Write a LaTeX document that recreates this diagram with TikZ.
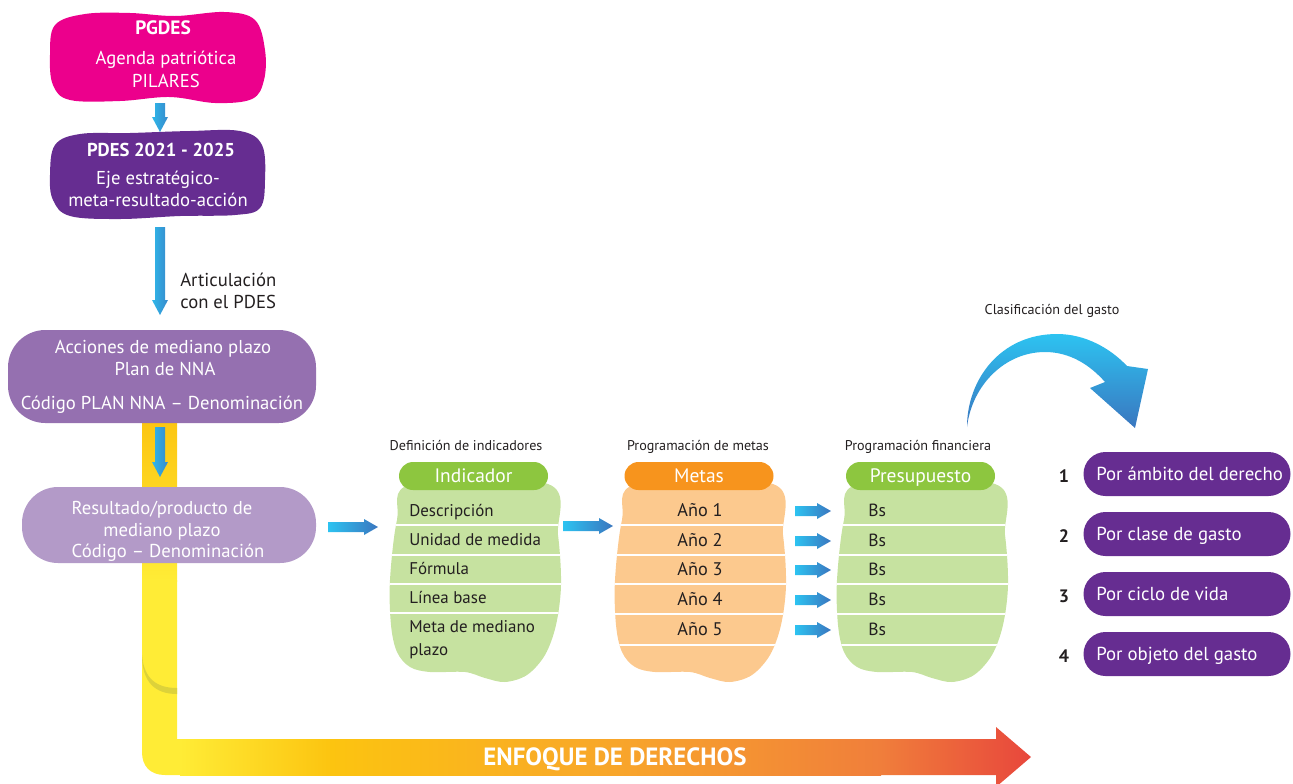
\documentclass[tikz,border=0pt]{standalone}
\usepackage{fontspec}
\setmainfont{PT Sans}
\definecolor{cPink}{HTML}{EC008C}
\definecolor{cPurple}{HTML}{662D91}
\definecolor{cPurpleM}{HTML}{9570B0}
\definecolor{cPurpleL}{HTML}{B39AC8}
\definecolor{cGreen}{HTML}{8DC63F}
\definecolor{cGreenL}{HTML}{C6E2A0}
\definecolor{cOrange}{HTML}{F7941D}
\definecolor{cOrangeL}{HTML}{FCC98E}
\definecolor{cText}{HTML}{231F20}
\definecolor{cCyan}{HTML}{2DC3F1}
\definecolor{cBlue}{HTML}{3A76BF}
\definecolor{cY1}{HTML}{FFEC36}
\definecolor{cY2}{HTML}{FCC410}
\definecolor{cY3}{HTML}{F8A52B}
\definecolor{cY4}{HTML}{F07E3B}
\definecolor{cRed}{HTML}{E8473C}
\definecolor{cShadow}{HTML}{DDD23A}
\newcommand\fs[1]{\fontsize{#1}{#1}\selectfont}
\newcommand\hblue[3]{%
  \shade[left color=cCyan,right color=cBlue] (#1,#3-5) -- (#2-14,#3-5) -- (#2-14,#3-8) -- (#2,#3) -- (#2-14,#3+8) -- (#2-14,#3+5) -- (#1,#3+5) -- cycle;}
\newcommand\vblue[3]{%
  \shade[left color=cCyan!85!cBlue,right color=cBlue!75!cCyan] (#1-5,#2) -- (#1+5,#2) -- (#1+5,#3-15) -- (#1+8,#3-15) -- (#1,#3) -- (#1-8,#3-15) -- (#1-5,#3-15) -- cycle;}
\newcommand\bodyshape[1]{#1 plot[smooth cycle,tension=0.55] coordinates {(412,484) (397,520) (390,580) (391,625) (397,652) (410,667) (430,672) (465,672) (485,678) (505,682) (527,675) (545,655) (556,625) (561,585) (558,535) (548,484)};}
\newcommand\column[3]{%
  \begin{scope}[shift={(#1,0)}]
    \bodyshape{\fill[#2]}
    \begin{scope}
      \bodyshape{\clip}
      \foreach \yy in {#3} \draw[white,line width=1.5pt] (380,\yy) -- (580,\yy);
    \end{scope}
  \end{scope}}
\begin{document}
\begin{tikzpicture}[x=0.75pt,y=-0.75pt,
  s9/.style={inner sep=0pt,font=\fs{10.6},text=cText,text height=7pt,text depth=0pt},
  s12/.style={inner sep=0pt,font=\fs{12.7},text=cText,text height=8.4pt,text depth=0pt},
  s13/.style={inner sep=0pt,font=\fs{14},text height=9.2pt,text depth=0pt},
  hdr/.style={rounded corners=10.5pt,minimum width=111.75pt,minimum height=21pt,inner sep=0pt,text=white,font=\fs{14.6},text height=9.6pt,text depth=0pt},
  pill/.style={fill=cPurple,rounded corners=16.5pt,minimum width=155.25pt,minimum height=33pt,inner sep=0pt},
  rbox/.style={inner sep=0pt}]
\useasboundingbox (0,0) rectangle (1293,783);
% ---- yellow/orange band (Enfoque de derechos)
\shade[top color=cY2,bottom color=cY1] (142,415) rectangle (177,581);
\fill[cY1] (142,580) -- (142,752) .. controls (142,766) and (150,775) .. (165,775) -- (182,775) -- (182,739) -- (177,739) -- (177,580) -- cycle;
\shade[left color=cY1,right color=cY2] (180,739) rectangle (331,775);
\shade[left color=cY2,right color=cY3] (330,739) rectangle (621,775);
\shade[left color=cY3,right color=cY4] (620,739) rectangle (881,775);
\shade[left color=cY4,right color=cRed] (880,739) -- (996,739) -- (996,727) -- (1031,757) -- (996,787) -- (996,775) -- (880,775) -- cycle;
\fill[cShadow] (142,655) .. controls (144,680) and (158,688) .. (177,688) -- (177,694) .. controls (155,694) and (142,682) .. (142,655) -- cycle;
\node[inner sep=0pt,font=\bfseries\fs{18.7},text=white,text height=13.1pt,text depth=0pt] (enf) at (615,757) {ENFOQUE DE DERECHOS};
% ---- PGDES blob
\fill[cPink] plot[smooth cycle,tension=0.6] coordinates {(50,55) (55,25) (85,14) (130,13) (175,16) (225,12) (255,20) (265,50) (264,80) (252,99) (215,103) (170,97) (120,101) (70,100) (53,85)};
\node[s13,font=\bfseries\fs{14.5},text=white] (pg1) at (163,28) {PGDES};
\node[s13,text=white] (pg2) at (166,58) {Agenda patriótica};
\node[s13,text=white] (pg3) at (166,81) {PILARES};
\vblue{160}{103}{132}
% ---- PDES blob
\fill[cPurple] plot[smooth cycle,tension=0.6] coordinates {(50,175) (55,145) (80,134) (130,133) (190,131) (240,131) (262,145) (265,180) (260,208) (235,215) (180,216) (120,219) (70,216) (53,200)};
\node[s13,font=\bfseries\fs{14},text=white] (pd1) at (161,150) {PDES 2021 - 2025};
\node[s13,text=white] (pd2) at (158,178) {Eje estratégico-};
\node[s13,text=white] (pd3) at (158,200) {meta-resultado-acción};
\vblue{160}{227}{315}
\node[s13,text=cText,anchor=west] (art1) at (180,280) {Articulación};
\node[s13,text=cText,anchor=west] (art2) at (180,302) {con el PDES};
% ---- Acciones / Resultado
\node[rbox,fill=cPurpleM,rounded corners=28pt,minimum width=231pt,minimum height=69.75pt] (acc) at (162,376.5) {};
\node[s13,text=white] (acc1) at (163,347) {Acciones de mediano plazo};
\node[s13,text=white] (acc2) at (165,369) {Plan de NNA};
\node[s13,text=white] (acc3) at (162,403) {Código PLAN NNA – Denominación};
\vblue{160}{427}{477}
\node[rbox,fill=cPurpleL,rounded corners=27pt,minimum width=220.5pt,minimum height=57pt] (res) at (169,525) {};
\node[s13,text=white] (res1) at (162,508) {Resultado/producto de};
\node[s13,text=white] (res2) at (162,530) {mediano plazo};
\node[s13,text=white] (res3) at (168,551) {Código – Denominación};
\hblue{328}{378}{527}
% ---- columns
\column{0}{cGreenL}{525,555,584,613}
\column{225}{cOrangeL}{525,555,584,614,645}
\column{447}{cGreenL}{525,555,584,614,645}
\node[s9] (lab1) at (466,446) {Definición de indicadores};
\node[s9] (lab2) at (698,446) {Programación de metas};
\node[s9] (lab3) at (918,446) {Programación financiera};
\node[hdr,fill=cGreen] (ind) at (473.5,476) {Indicador};
\node[hdr,fill=cOrange] (met) at (699,476) {Metas};
\node[hdr,fill=cGreen] (pre) at (920.5,476) {Presupuesto};
\node[s12,anchor=west] (i1) at (409,511) {Descripción};
\node[s12,anchor=west] (i2) at (409,540) {Unidad de medida};
\node[s12,anchor=west] (i3) at (409,569) {Fórmula};
\node[s12,anchor=west] (i4) at (409,598) {Línea base};
\node[s12,anchor=west] (i5) at (409,627) {Meta de mediano};
\node[s12,anchor=west] (i6) at (409,650) {plazo};
\hblue{563}{613}{526}
\foreach \n/\yy in {1/511,2/541,3/570,4/600,5/630}{
  \node[s12,font=\fs{13.7}] (m\n) at (700,\yy) {Año \n};
  \node[s12,font=\fs{13.2},anchor=west] (b\n) at (868,\yy) {Bs};
  \hblue{795}{831}{\yy}
}
% ---- classification
\node[s9] (cla) at (1052,310) {Clasificación del gasto};
\shade[top color=cCyan,bottom color=cBlue] (967,427) .. controls (967,380) and (1000,334) .. (1057,334) .. controls (1085,334) and (1110,348) .. (1127,366) -- (1148,369) -- (1135,428) -- (1090,388) -- (1105,382) .. controls (1090,365) and (1070,352) .. (1045,352) .. controls (1005,352) and (972,385) .. (967,427) -- cycle;
\foreach \n/\yy/\tx in {1/474/Por ámbito del derecho,2/534/Por clase de gasto,3/594/Por ciclo de vida,4/654/Por objeto del gasto}{
  \node[pill] (p\n) at (1187,\yy) {};
  \node[s13,text=white,font=\fs{14.1},anchor=west] (pt\n) at (1096,\yy) {\tx};
  \node[s13,text=cText,font=\bfseries\fs{13.5}] (n\n) at (1064,\yy+2) {\n};
}
\end{tikzpicture}
\end{document}
